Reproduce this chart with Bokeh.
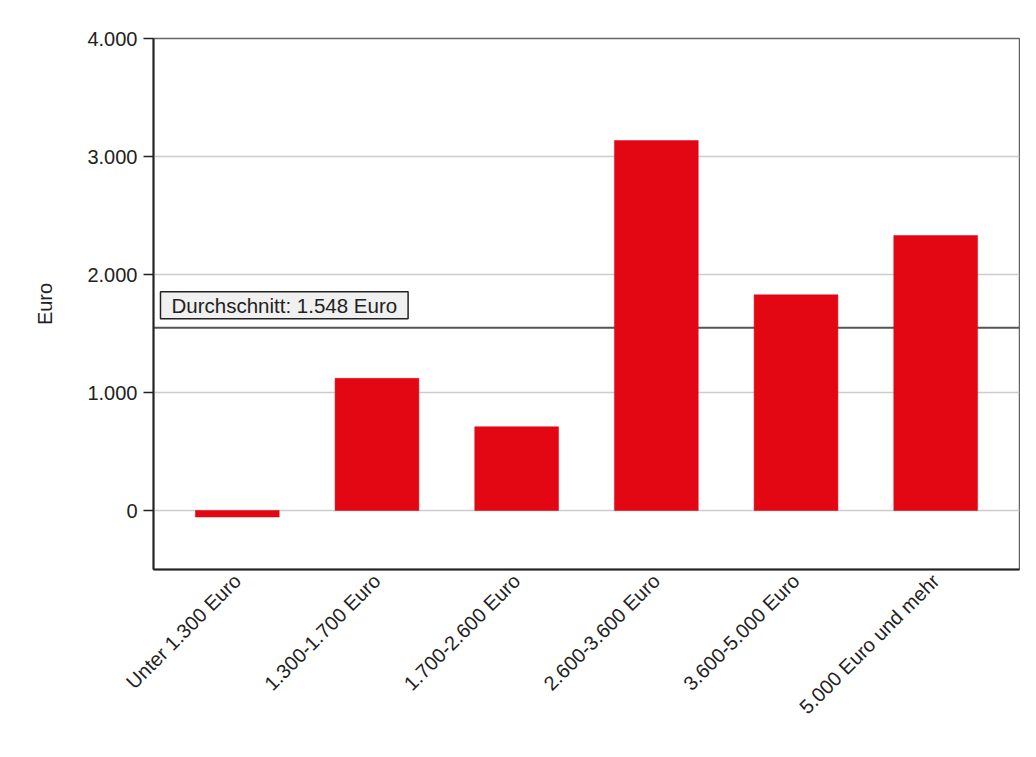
import math
from bokeh.plotting import figure
from bokeh.models import Range1d, FixedTicker, Span, Label, ColumnDataSource
from bokeh.embed import file_html
from bokeh.resources import INLINE

categories = ["Unter 1.300 Euro", "1.300-1.700 Euro", "1.700-2.600 Euro",
              "2.600-3.600 Euro", "3.600-5.000 Euro", "5.000 Euro und mehr"]
values = [-55, 1120, 710, 3135, 1828, 2330]
average = 1548
average_label = "Durchschnitt: 1.548 Euro"
y_ticks = [0, 1000, 2000, 3000, 4000]
y_tick_labels = ["0", "1.000", "2.000", "3.000", "4.000"]

FONT = "Liberation Sans"
FS = "20px"
RED = "#e30613"

xpos = [i + 0.5 for i in range(len(categories))]
src = ColumnDataSource(dict(x=xpos, top=values, cat=categories))

p = figure(width=1020, height=741, output_backend="svg", toolbar_location=None,
           x_range=Range1d(-0.1, len(categories) + 0.1), y_range=Range1d(-500, 4000),
           min_border_left=153, min_border_right=1, min_border_top=38, min_border_bottom=172)

p.background_fill_color = "white"
p.border_fill_color = "white"
p.outline_line_color = "#666666"
p.outline_line_width = 1.5

# grid
p.xgrid.visible = False
p.ygrid.ticker = FixedTicker(ticks=y_ticks)
p.ygrid.grid_line_color = "#cccccc"
p.ygrid.grid_line_width = 1.5

# average line (behind bars)
span = Span(location=average, dimension="width", line_color="#555555", line_width=2, level="underlay")
p.add_layout(span)

p.vbar(x="x", top="top", bottom=0, width=0.6, source=src, fill_color=RED, line_color=RED, line_width=0.5)

lbl = Label(x=-0.05, y=average, y_offset=9, text=average_label,
            text_font=FONT, text_font_size="20.5px", text_color="#222222",
            text_baseline="bottom",
            background_fill_color="#f0f0f0", border_line_color="#222222", border_line_width=1.5,
            padding=(11, 11, 2, 2))
p.add_layout(lbl)

# y axis
p.yaxis.ticker = FixedTicker(ticks=y_ticks)
p.yaxis.major_label_overrides = {t: l for t, l in zip(y_ticks, y_tick_labels)}
p.yaxis.axis_label = "Euro"
p.yaxis.axis_label_text_font = FONT
p.yaxis.axis_label_text_font_style = "normal"
p.yaxis.axis_label_text_font_size = FS
p.yaxis.axis_label_text_color = "#222222"
p.yaxis.axis_label_standoff = 28
p.yaxis.major_label_text_font = FONT
p.yaxis.major_label_text_font_size = FS
p.yaxis.major_label_text_color = "#222222"
p.yaxis.major_tick_out = 10
p.yaxis.major_tick_in = 0
p.yaxis.minor_tick_out = 0
p.yaxis.minor_tick_in = 0
p.yaxis.axis_line_color = "#222222"
p.yaxis.axis_line_width = 2
p.yaxis.major_tick_line_color = "#222222"
p.yaxis.major_tick_line_width = 1.5
p.yaxis.major_label_standoff = 6

# x axis
p.xaxis.ticker = FixedTicker(ticks=xpos)
p.xaxis.major_label_overrides = {x: c for x, c in zip(xpos, categories)}
p.xaxis.major_label_orientation = math.pi / 4
p.xaxis.major_label_text_font = FONT
p.xaxis.major_label_text_font_size = FS
p.xaxis.major_label_text_color = "#222222"
p.xaxis.major_tick_out = 0
p.xaxis.major_tick_in = 0
p.xaxis.minor_tick_out = 0
p.xaxis.minor_tick_in = 0
p.xaxis.axis_line_color = "#222222"
p.xaxis.axis_line_width = 2
p.xaxis.major_label_standoff = 8

open("out.html", "w").write(file_html(p, INLINE))
